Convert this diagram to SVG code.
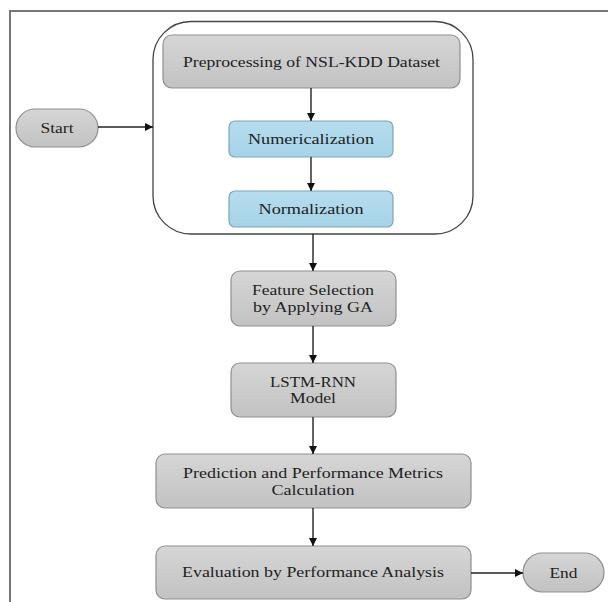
<svg xmlns="http://www.w3.org/2000/svg" width="608" height="602" viewBox="0 0 608 602">
<defs>
<linearGradient id="gray" x1="0" y1="0" x2="0" y2="1">
<stop offset="0" stop-color="#d6d6d6"/>
<stop offset="1" stop-color="#c2c2c2"/>
</linearGradient>
<linearGradient id="blue" x1="0" y1="0" x2="0" y2="1">
<stop offset="0" stop-color="#b6ddee"/>
<stop offset="1" stop-color="#a6d3e8"/>
</linearGradient>
<marker id="ah" viewBox="0 0 10 10" refX="10" refY="5" markerWidth="8" markerHeight="8" markerUnits="userSpaceOnUse" orient="auto">
<path d="M0,0 L10,5 L0,10 z" fill="#111"/>
</marker>
</defs>
<style>
.g{fill:url(#gray);stroke:#8f8f8f;stroke-width:1.2}
.b{fill:url(#blue);stroke:#7fa6b8;stroke-width:1.2}
.t{font-family:"Liberation Serif","Times New Roman",serif;font-size:14.5px;fill:#222;text-anchor:middle}
.c{stroke:#222;stroke-width:1.4;fill:none;marker-end:url(#ah)}
</style>
<rect width="608" height="602" fill="#fff"/>
<g id="frame" stroke="#777" stroke-width="2" fill="none">
<path d="M10,602 L10,11 L608,11"/>
</g>
<g id="container">
<rect x="153" y="21.5" width="320" height="212.5" rx="38" fill="none" stroke="#444" stroke-width="1.3"/>
</g>
<g id="start">
<rect class="g" x="16" y="109" width="82" height="38" rx="19"/>
<text class="t" x="57" y="133" textLength="33" lengthAdjust="spacingAndGlyphs">Start</text>
</g>
<g id="preprocessing">
<rect class="g" x="163" y="35" width="297" height="53" rx="9"/>
<text class="t" x="311.5" y="66.5" textLength="257" lengthAdjust="spacingAndGlyphs">Preprocessing of NSL-KDD Dataset</text>
</g>
<g id="numericalization">
<rect class="b" x="229" y="121" width="164" height="36" rx="6"/>
<text class="t" x="311" y="144" textLength="126" lengthAdjust="spacingAndGlyphs">Numericalization</text>
</g>
<g id="normalization">
<rect class="b" x="229" y="191" width="164" height="36" rx="6"/>
<text class="t" x="311" y="214" textLength="105" lengthAdjust="spacingAndGlyphs">Normalization</text>
</g>
<g id="feature">
<rect class="g" x="231" y="271" width="165" height="55" rx="9"/>
<text class="t" x="313" y="295" textLength="122" lengthAdjust="spacingAndGlyphs">Feature Selection</text>
<text class="t" x="313" y="312" textLength="120" lengthAdjust="spacingAndGlyphs">by Applying GA</text>
</g>
<g id="lstm">
<rect class="g" x="231" y="363" width="165" height="54" rx="9"/>
<text class="t" x="313" y="387" textLength="86" lengthAdjust="spacingAndGlyphs">LSTM-RNN</text>
<text class="t" x="313" y="403" textLength="46" lengthAdjust="spacingAndGlyphs">Model</text>
</g>
<g id="prediction">
<rect class="g" x="156" y="454" width="315" height="54" rx="9"/>
<text class="t" x="313" y="478" textLength="260" lengthAdjust="spacingAndGlyphs">Prediction and Performance Metrics</text>
<text class="t" x="313" y="495" textLength="83" lengthAdjust="spacingAndGlyphs">Calculation</text>
</g>
<g id="evaluation">
<rect class="g" x="156" y="546" width="315" height="53" rx="9"/>
<text class="t" x="313" y="577" textLength="262" lengthAdjust="spacingAndGlyphs">Evaluation by Performance Analysis</text>
</g>
<g id="end">
<rect class="g" x="523" y="553" width="81" height="39" rx="19.5"/>
<text class="t" x="563.5" y="577.5" textLength="28" lengthAdjust="spacingAndGlyphs">End</text>
</g>
<g id="connectors">
<path class="c" d="M98,127 L153,127"/>
<path class="c" d="M311,88 L311,121"/>
<path class="c" d="M311,157 L311,191"/>
<path class="c" d="M313,234 L313,271"/>
<path class="c" d="M313,326 L313,363"/>
<path class="c" d="M313,417 L313,454"/>
<path class="c" d="M313,508 L313,546"/>
<path class="c" d="M471,573 L523,573"/>
</g>
</svg>
